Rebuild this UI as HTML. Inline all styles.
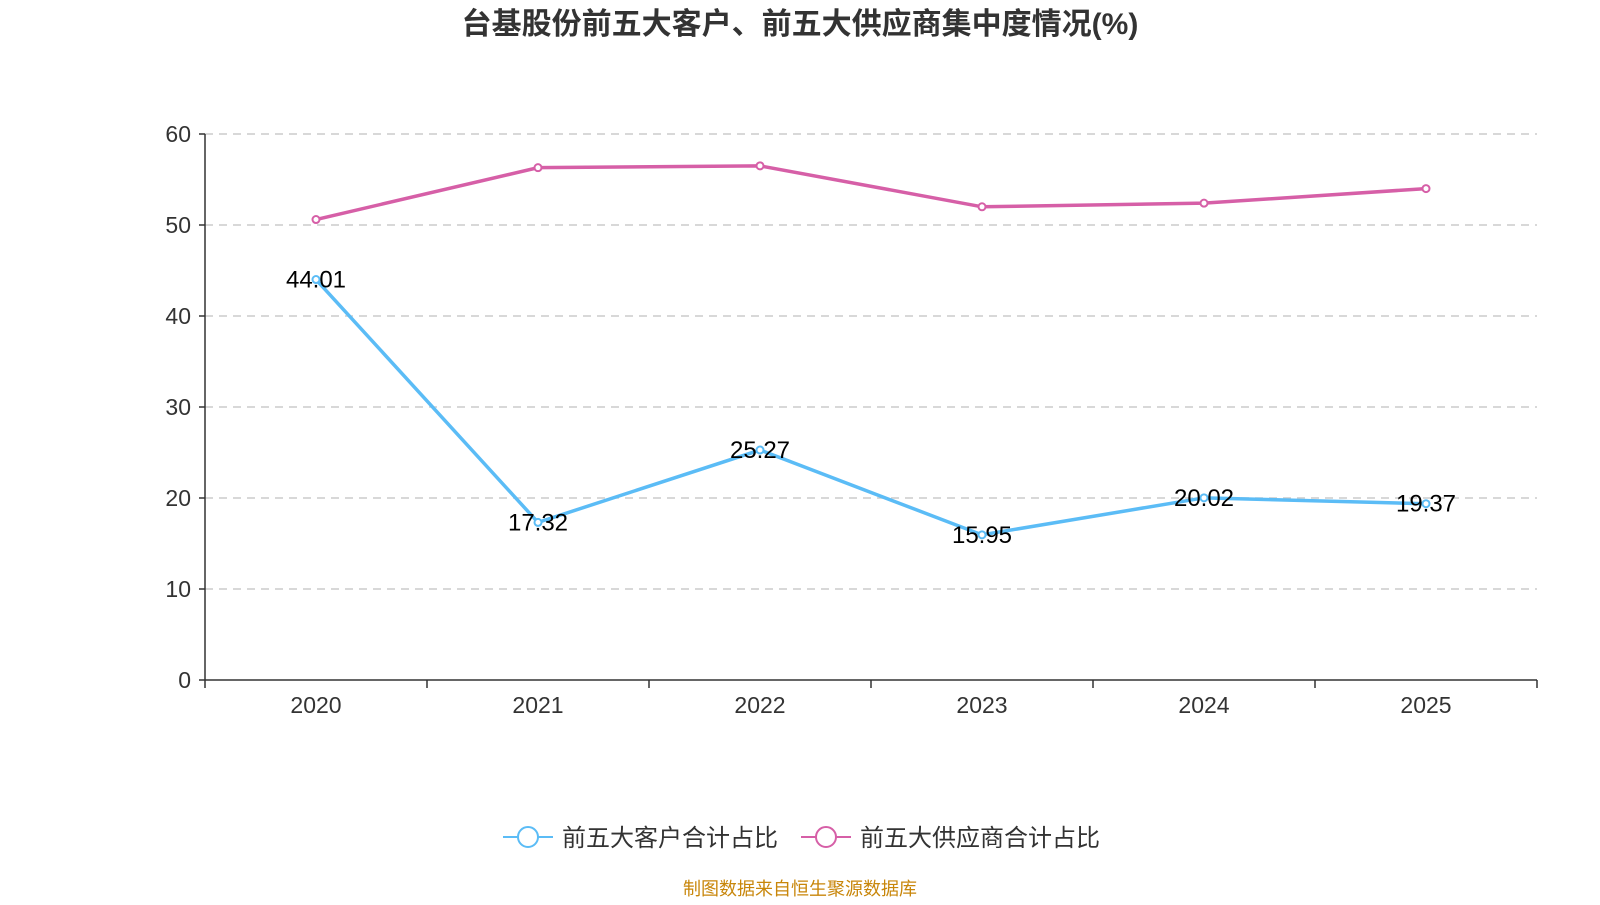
<!DOCTYPE html>
<html><head><meta charset="utf-8"><style>
body{margin:0;background:#fff;}
svg text{font-family:"Liberation Sans","Noto Sans CJK SC",sans-serif;}
</style></head><body>
<svg width="1600" height="900" id="c">
<text x="800" y="34" text-anchor="middle" font-size="30" font-weight="bold" fill="#333">台基股份前五大客户、前五大供应商集中度情况(%)</text>
<g id="grid"></g><g id="axes"></g><g id="series"></g>
<g>
<g>
<line x1="503" y1="837" x2="553" y2="837" stroke="#5bbcf6" stroke-width="2"/>
<circle cx="528" cy="837" r="10" fill="#fff" stroke="#5bbcf6" stroke-width="2"/>
<text x="562" y="846" font-size="24" fill="#333">前五大客户合计占比</text></g>
<g>
<line x1="801" y1="837" x2="851" y2="837" stroke="#d65fa7" stroke-width="2"/>
<circle cx="826" cy="837" r="10" fill="#fff" stroke="#d65fa7" stroke-width="2"/>
<text x="860" y="846" font-size="24" fill="#333">前五大供应商合计占比</text></g>
</g>
<text x="800" y="895" text-anchor="middle" font-size="18" fill="#c8860a">制图数据来自恒生聚源数据库</text>
</svg>
<script>
const categories=["2020","2021","2022","2023","2024","2025"];
const customers=[44.01,17.32,25.27,15.95,20.02,19.37];
const suppliers=[50.6,56.3,56.5,52.0,52.4,54.0];
const yTicks=[0,10,20,30,40,50,60];
const NS="http://www.w3.org/2000/svg";
const L=205,R=1537,T=134,B=680;
const bw=(R-L)/categories.length;
const x=i=>L+bw*(i+0.5);
const y=v=>B-(v/60)*(B-T);
function mk(tag,attrs,parent,txt){const e=document.createElementNS(NS,tag);for(const k in attrs)e.setAttribute(k,attrs[k]);if(txt!==undefined)e.textContent=txt;parent.appendChild(e);return e;}
const grid=document.getElementById('grid'),axes=document.getElementById('axes'),ser=document.getElementById('series');
yTicks.forEach(t=>{
 if(t>0){const g=mk('line',{x1:L,x2:R,y1:y(t),y2:y(t),stroke:'#ccc','stroke-width':1.5,'stroke-dasharray':'8,6'},grid);
 
 }
 mk('line',{x1:L-6,x2:L,y1:y(t),y2:y(t),stroke:'#333','stroke-width':1.5},axes);
 const tl=mk('text',{x:L-14,y:y(t)+8,'text-anchor':'end','font-size':23,fill:'#333'},axes,t);
 
 
});
mk('line',{x1:L,x2:L,y1:T,y2:B,stroke:'#333','stroke-width':1.5},axes);
mk('line',{x1:L,x2:R,y1:B,y2:B,stroke:'#333','stroke-width':1.5},axes);
for(let i=0;i<=categories.length;i++)mk('line',{x1:L+bw*i,x2:L+bw*i,y1:B,y2:B+8,stroke:'#333','stroke-width':1.5},axes);
categories.forEach((c,i)=>{const t=mk('text',{x:x(i),y:B+33,'text-anchor':'middle','font-size':23,fill:'#333'},axes,c);
 
 });
function draw(data,color,name,labels){
 const p=mk('polyline',{points:data.map((v,i)=>x(i)+','+y(v)).join(' '),fill:'none',stroke:color,'stroke-width':3.5},ser);
 
 
 data.forEach((v,i)=>{const c=mk('circle',{cx:x(i),cy:y(v),r:3.5,fill:'#fff',stroke:color,'stroke-width':2},ser);
  
  
  if(labels){const t=mk('text',{x:x(i),y:y(v)+8,'text-anchor':'middle','font-size':24,fill:'#000'},ser,v.toFixed(2));
   
   }});
}
draw(suppliers,'#d65fa7','suppliers',false);
draw(customers,'#5bbcf6','customers',true);
</script>
</body></html>
